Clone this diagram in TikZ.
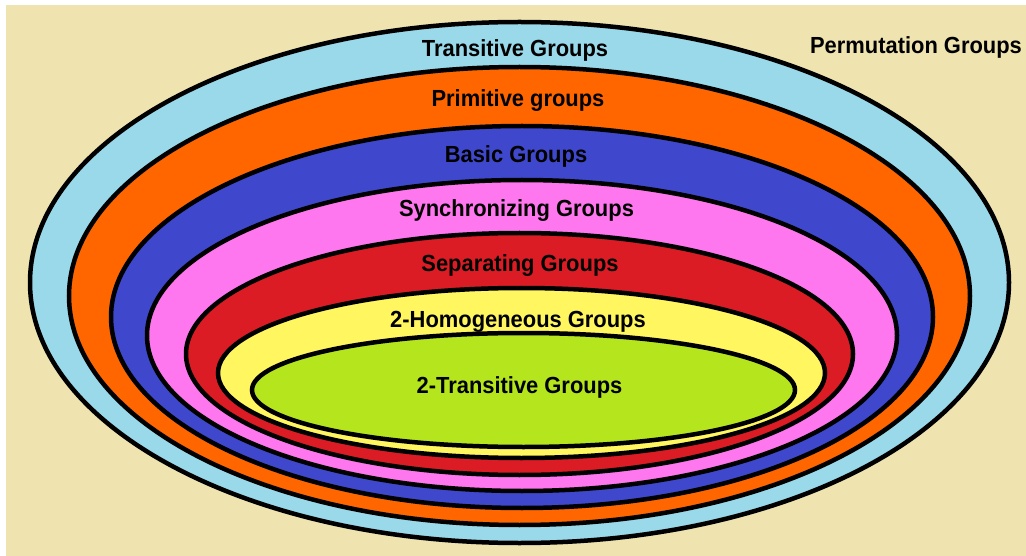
\documentclass[tikz,border=0pt]{standalone}
\usepackage{fontspec}
\setmainfont{Liberation Sans}
\usepackage{graphicx}
\definecolor{bgtan}{RGB}{239,228,176}
\definecolor{ltblue}{RGB}{153,217,234}
\definecolor{orng}{RGB}{255,102,0}
\definecolor{indig}{RGB}{63,72,204}
\definecolor{pinkk}{RGB}{255,119,238}
\definecolor{redd}{RGB}{220,28,36}
\definecolor{yell}{RGB}{255,246,96}
\definecolor{lime}{RGB}{181,230,29}
\newcommand\sqz[1]{\scalebox{0.94}[1]{#1}}
\tikzset{
  ring/.style={draw=black, line width=4.5pt},
  lbl/.style={anchor=base, inner sep=0pt, font=\fontsize{23.3}{28}\selectfont\bfseries}
}
\begin{document}
\begin{tikzpicture}[x=1pt, y=-1pt]
\useasboundingbox (0,0) rectangle (1026,556);
\fill[white] (0,0) rectangle (1026,556);
\fill[bgtan] (6,5) rectangle (1026,556);
\draw[ring, fill=ltblue] (519.5,282.5) ellipse [x radius=489.5, y radius=260.5];
\draw[ring, fill=orng]   (519.5,296)   ellipse [x radius=450.5, y radius=229];
\draw[ring, fill=indig]  (522,317)     ellipse [x radius=411, y radius=191];
\draw[ring, fill=pinkk]  (522,335.5)   ellipse [x radius=375, y radius=155.5];
\draw[ring, fill=redd]   (519.5,354)   ellipse [x radius=333.5, y radius=121];
\draw[ring, fill=yell]   (521.5,373)   ellipse [x radius=303.5, y radius=85];
\draw[ring, fill=lime]   (523.5,390)   ellipse [x radius=271.5, y radius=57];
\node[lbl] (trans) at (515,56.7) {\sqz{Transitive Groups}};
\node[lbl] (prim)  at (518,107)  {\sqz{Primitive groups}};
\node[lbl] (basic) at (516,163)  {\sqz{Basic Groups}};
\node[lbl] (sync)  at (516.5,217) {\sqz{Synchronizing Groups}};
\node[lbl] (sep)   at (520,272)  {\sqz{Separating Groups}};
\node[lbl] (hom)   at (518,327)  {\sqz{2-Homogeneous Groups}};
\node[lbl] (ttr)   at (519.5,393) {\sqz{2-Transitive Groups}};
\node[lbl] (perm)  at (916,54)   {\sqz{Permutation Groups}};
\end{tikzpicture}
\end{document}
